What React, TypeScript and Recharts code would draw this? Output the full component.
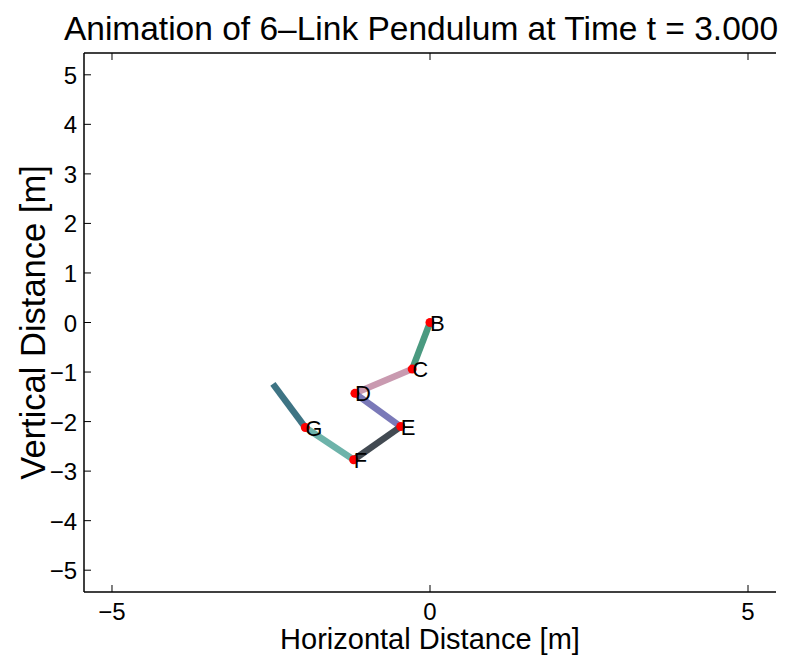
import { ComposedChart, Line, Scatter, XAxis, YAxis } from 'recharts';

const FONT = '"Liberation Sans", Arial, Helvetica, sans-serif';

// joint positions (metres)
const jointNames = ['B', 'C', 'D', 'E', 'F', 'G'];
const jointX = [0, -0.28, -1.18, -0.46, -1.2, -1.96];
const jointY = [0, -0.94, -1.43, -2.1, -2.77, -2.12];
// free end of the last link
const tipX = -2.47;
const tipY = -1.24;

const linkColors = ['#4a9a80', '#c99ab0', '#7a79b8', '#424a52', '#6db3aa', '#3e7484'];

const xTicks = [-5, 0, 5];
const yTicks = [-5, -4, -3, -2, -1, 0, 1, 2, 3, 4, 5];
const axisLimit = 5.44;

const joints = jointNames.map((name, i) => ({ name, x: jointX[i], y: jointY[i] }));
const allX = [...jointX, tipX];
const allY = [...jointY, tipY];
const links = linkColors.map((color, i) => ({
  color,
  data: [
    { x: allX[i], y: allY[i] },
    { x: allX[i + 1], y: allY[i + 1] },
  ],
}));

const TICK_LEN = 7;
const fmt = (v: number) => (v < 0 ? '\u2212' + Math.abs(v) : String(v));

const BottomTick = ({ x, y, payload }: any) => (
  <g>
    <line x1={x} x2={x} y1={y} y2={y - TICK_LEN} stroke="#000" strokeWidth={1} />
    <text x={x} y={y + 28} textAnchor="middle" fontSize={24} fontFamily={FONT} fill="#000">
      {fmt(payload.value)}
    </text>
  </g>
);

const TopTick = ({ x, y }: any) => (
  <line x1={x} x2={x} y1={y} y2={y + TICK_LEN} stroke="#000" strokeWidth={1} />
);

const LeftTick = ({ x, y, payload }: any) => (
  <g>
    <line x1={x} x2={x + TICK_LEN} y1={y} y2={y} stroke="#000" strokeWidth={1} />
    <text x={x - 7} y={y + 9} textAnchor="end" fontSize={24} fontFamily={FONT} fill="#000">
      {fmt(payload.value)}
    </text>
  </g>
);

const RightTick = ({ x, y }: any) => (
  <line x1={x} x2={x - TICK_LEN} y1={y} y2={y} stroke="#000" strokeWidth={1} />
);

const DotShape = ({ cx, cy }: any) => <circle cx={cx} cy={cy} r={4.5} fill="#ff0000" />;

const NameShape = ({ cx, cy, payload }: any) => (
  <text x={cx} y={cy + 8} fontSize={22} fontFamily={FONT} fill="#000">
    {payload.name}
  </text>
);

export default function App() {
  return (
    <div style={{ position: 'absolute', left: 0, top: 0, width: 796, height: 664, background: '#fff' }}>
      <ComposedChart width={796} height={664} margin={{ top: 0, right: 20, bottom: 0, left: 0 }}>
        <XAxis
          xAxisId="bottom"
          dataKey="x"
          type="number"
          domain={[-axisLimit, axisLimit]}
          ticks={xTicks}
          interval={0}
          allowDataOverflow
          height={72}
          tickSize={0}
          tickMargin={0}
          tick={BottomTick}
          axisLine={{ stroke: '#000', strokeWidth: 1.5 }}
          label={{
            content: ({ viewBox }: any) => (
              <text
                x={viewBox.x + viewBox.width / 2}
                y={viewBox.y + 57}
                textAnchor="middle"
                fontSize={29}
                fontFamily={FONT}
                fill="#000"
              >
                Horizontal Distance [m]
              </text>
            ),
          }}
        />
        <XAxis
          xAxisId="top"
          orientation="top"
          dataKey="x"
          type="number"
          domain={[-axisLimit, axisLimit]}
          ticks={xTicks}
          interval={0}
          allowDataOverflow
          height={53}
          tickSize={0}
          tickMargin={0}
          tick={TopTick}
          axisLine={{ stroke: '#000', strokeWidth: 1.5 }}
          label={{
            content: ({ viewBox }: any) => (
              <text
                x={viewBox.x + viewBox.width / 2 - 9}
                y={viewBox.y + 40}
                textAnchor="middle"
                fontSize={33.5}
                fontFamily={FONT}
                fill="#000"
              >
                Animation of 6–Link Pendulum at Time t = 3.000
              </text>
            ),
          }}
        />
        <YAxis
          yAxisId="left"
          dataKey="y"
          type="number"
          domain={[-axisLimit, axisLimit]}
          ticks={yTicks}
          interval={0}
          allowDataOverflow
          width={84}
          tickSize={0}
          tickMargin={0}
          tick={LeftTick}
          axisLine={{ stroke: '#000', strokeWidth: 1.5 }}
          label={{
            content: ({ viewBox }: any) => {
              const cx = viewBox.x + 33;
              const cy = viewBox.y + viewBox.height / 2;
              return (
                <text
                  x={cx}
                  y={cy}
                  transform={`rotate(-90 ${cx} ${cy})`}
                  textAnchor="middle"
                  dominantBaseline="central"
                  fontSize={34.5}
                  fontFamily={FONT}
                  fill="#000"
                >
                  Vertical Distance [m]
                </text>
              );
            },
          }}
        />
        <YAxis
          yAxisId="right"
          orientation="right"
          dataKey="y"
          type="number"
          domain={[-axisLimit, axisLimit]}
          ticks={yTicks}
          interval={0}
          allowDataOverflow
          width={0}
          tickSize={0}
          tickMargin={0}
          tick={RightTick}
          axisLine={{ stroke: '#000', strokeWidth: 1.5 }}
        />
        <Scatter
          xAxisId="bottom"
          yAxisId="left"
          data={joints}
          dataKey="y"
          shape={DotShape}
          isAnimationActive={false}
        />
        {links.map((link, i) => (
          <Line
            key={i}
            xAxisId="bottom"
            yAxisId="left"
            data={link.data}
            dataKey="y"
            type="linear"
            stroke={link.color}
            strokeWidth={6.5}
            dot={false}
            activeDot={false}
            legendType="none"
            isAnimationActive={false}
          />
        ))}
        <Scatter
          xAxisId="bottom"
          yAxisId="left"
          data={joints}
          dataKey="y"
          shape={NameShape}
          isAnimationActive={false}
        />
      </ComposedChart>
    </div>
  );
}
